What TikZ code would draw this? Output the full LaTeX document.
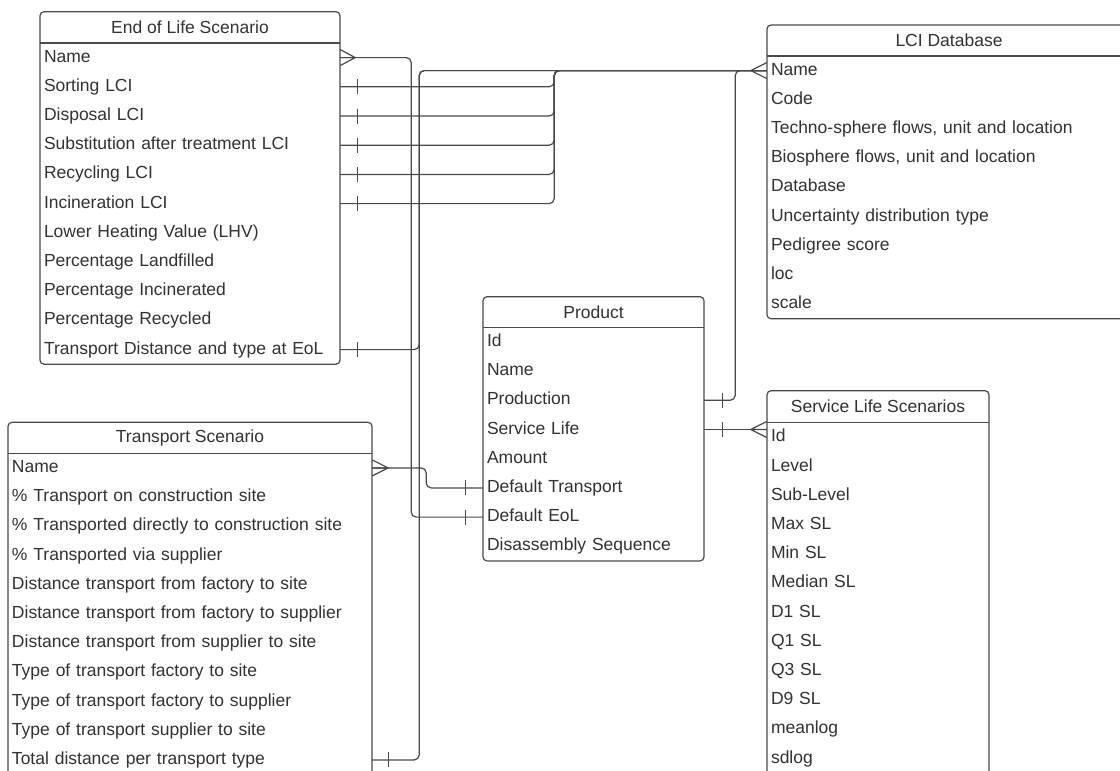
\documentclass[tikz,border=0pt]{standalone}
\usepackage{fontspec}
\setmainfont{Liberation Sans}
\usetikzlibrary{calc}
\definecolor{ln}{HTML}{4A4A4A}
\definecolor{tx}{HTML}{333333}
\tikzset{
  hdrtext/.style={font=\fontsize{17.5}{20}\selectfont, text=tx, inner sep=0pt},
  rowtext/.style={font=\fontsize{17.5}{20}\selectfont, text=tx, inner xsep=4pt, inner ysep=0pt,
                  text height=12.6pt, text depth=3.6pt, minimum height=29.2pt, align=left},
  boxline/.style={draw=ln, line width=1.2pt},
  conn/.style={draw=ln, line width=1.2pt, rounded corners=5pt},
  tick/.style={draw=ln, line width=1.2pt}
}
\newcommand\ertable[8]{% #1 name, #2 x0, #3 x1, #4 top, #5 header bottom, #6 title, #7 bottom, #8 rows
  \pgfmathsetmacro\ertw{#3-#2-8}
  \node[hdrtext] (#1-h) at ({(#2+#3)/2},{(#4+#5)/2}) {#6};
  \foreach \t [count=\k] in {#8} {
    \node[rowtext, text width=\ertw pt] (#1-\k) at ({(#2+#3)/2},{#5+14.6+29.2*(\k-1)}) {\t};
  }
  \draw[boxline, rounded corners=4pt] (#2,#4) rectangle (#3,#7);
  \draw[boxline] (#2,#5) -- (#3,#5);
}
% one-bar marker at distance #2 from anchor #1
\newcommand\onebar[2]{\draw[tick] ($(#1)+(#2,-7.5)$) -- ($(#1)+(#2,7.5)$);}
% crow's foot: anchor #1, apex offset #2
\newcommand\crow[2]{\draw[tick] ($(#1)+(0,-8)$) -- ($(#1)+(#2,0)$) -- ($(#1)+(0,8)$) ($(#1)$) -- ($(#1)+(#2,0)$);}
\begin{document}
\begin{tikzpicture}[x=1pt, y=-1pt]
\useasboundingbox (0,0) rectangle (1120,771);
\fill[white] (0,0) rectangle (1120,771);
\clip (0,0) rectangle (1120,771);

\ertable{eol}{40}{340}{11.7}{43}{End of Life Scenario}{364.2}{Name,Sorting LCI,Disposal LCI,Substitution after treatment LCI,Recycling LCI,Incineration LCI,Lower Heating Value (LHV),Percentage Landfilled,Percentage Incinerated,Percentage Recycled,Transport Distance and type at EoL}

\ertable{lci}{767}{1131}{25}{56}{LCI Database}{318.8}{Name,Code,{Techno-sphere flows, unit and location},{Biosphere flows, unit and location},Database,Uncertainty distribution type,Pedigree score,loc,scale}

\ertable{prod}{483}{704}{296.7}{327.3}{Product}{560.9}{Id,Name,Production,Service Life,Amount,Default Transport,Default EoL,Disassembly Sequence}

\ertable{svc}{767}{989}{390.7}{422.7}{Service Life Scenarios}{775}{Id,Level,Sub-Level,Max SL,Min SL,Median SL,D1 SL,Q1 SL,Q3 SL,D9 SL,meanlog,sdlog}

\ertable{trans}{8}{372}{422.3}{453.3}{Transport Scenario}{776}{Name,\% Transport on construction site,\% Transported directly to construction site,\% Transported via supplier,Distance transport from factory to site,Distance transport from factory to supplier,Distance transport from supplier to site,Type of transport factory to site,Type of transport factory to supplier,Type of transport supplier to site,Total distance per transport type}

% EoL Name -> Product Default EoL
\draw[conn] (eol-1.east) -- ++(71,0) |- (prod-7.west);
\crow{eol-1.east}{15}
\onebar{prod-7.west}{-17}

% Transport Name -> Product Default Transport
\draw[conn] (trans-1.east) -- ++(54,0) |- (prod-6.west);
\crow{trans-1.east}{16}
\onebar{prod-6.west}{-17}

% LCI links from EoL
\foreach \k in {2,...,6} {
  \draw[conn] (eol-\k.east) -- ++(214,0) |- (lci-1.west);
  \onebar{eol-\k.east}{17}
}
\draw[conn] (eol-11.east) -- ++(79,0) |- (lci-1.west);
\onebar{eol-11.east}{17}
\draw[conn] (trans-11.east) -- ++(47,0) |- (lci-1.west);
\onebar{trans-11.east}{16}
\draw[conn] (prod-3.east) -- ++(31,0) |- (lci-1.west);
\onebar{prod-3.east}{18}
\crow{lci-1.west}{-16}

% Product Service Life -> Service Life Scenarios Id
\coordinate (svcend) at (prod-4.east -| svc-1.west);
\draw[conn] (prod-4.east) -- (svcend);
\onebar{prod-4.east}{18}
\crow{svcend}{-16}
\end{tikzpicture}
\end{document}
